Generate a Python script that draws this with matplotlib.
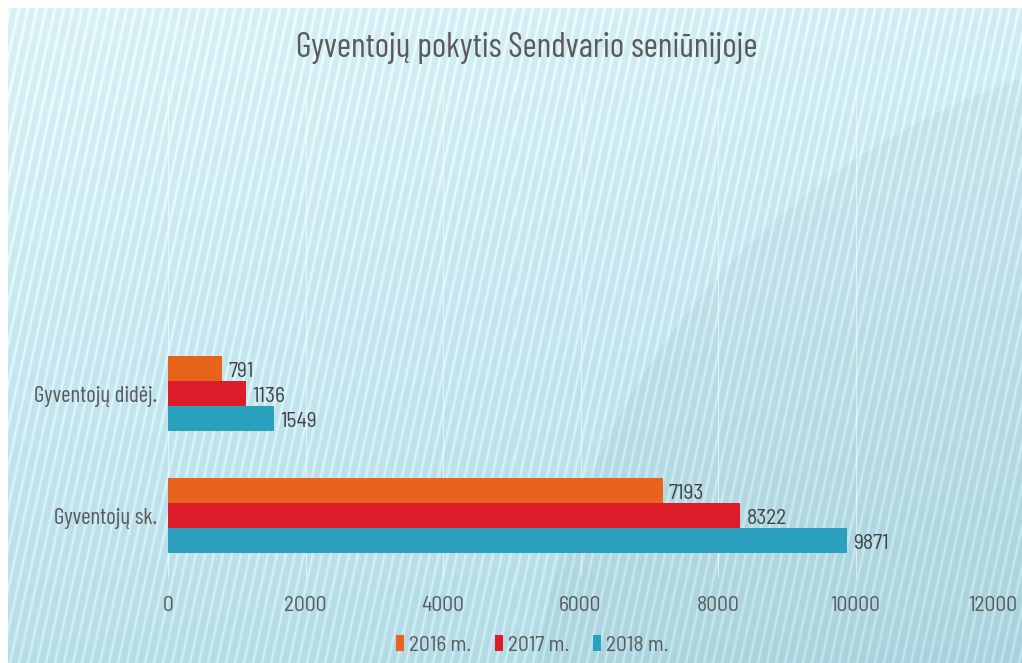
import numpy as np
import matplotlib.pyplot as plt

plt.rcParams['font.family'] = ['Barlow Condensed', 'DejaVu Sans']
num_font = ['Barlow Semi Condensed', 'DejaVu Sans']

categories = ['Gyventojų sk.', 'Gyventojų didėj.']
series_names = ['2016 m.', '2017 m.', '2018 m.']
values_2016 = [7193, 791]
values_2017 = [8322, 1136]
values_2018 = [9871, 1549]
colors = ['#e8631c', '#dd1c2a', '#2ba0bf']
text_col = '#5a5a5a'

W, H = 1022, 663
fig = plt.figure(figsize=(W / 100, H / 100), dpi=100)

# background: pale cyan gradient with thin diagonal stripes
yy, xx = np.mgrid[0:H, 0:W].astype(float)
top = np.array([0.875, 0.962, 0.980])
bot = np.array([0.710, 0.865, 0.905])
t = (yy / H)[..., None] * 0.8 + (xx / W)[..., None] * 0.2
img = top * (1 - t) + bot * t
stripe = 0.5 + 0.5 * np.sin(2 * np.pi * (xx + 0.22 * yy) / 9.0)
img += (stripe ** 4)[..., None] * 0.08 - 0.02
arc = np.hypot(xx - 1250, yy - 760) < 720
img[arc] -= 0.025
img = np.clip(img, 0, 1)
img[:8, :] = 1
img[:, :8] = 1
bg = fig.add_axes([0, 0, 1, 1])
bg.imshow(img, aspect='auto', extent=[0, 1, 0, 1], interpolation='nearest')
bg.set_xlim(0, 1)
bg.set_ylim(0, 1)
bg.axis('off')

ax = fig.add_axes([168 / W, 1 - 577 / H, (993 - 168) / W, (577 - 88) / H])
ax.patch.set_alpha(0)

y = np.arange(len(categories))
h = 0.205
offsets = [h, 0, -h]
for vals, off, col, name in zip([values_2016, values_2017, values_2018], offsets, colors, series_names):
    bars = ax.barh(y + off, vals, height=h, color=col, label=name)
    for b, v in zip(bars, vals):
        ax.text(v + 90, b.get_y() + b.get_height() / 2 - 0.025, str(v), va='center', ha='left',
                fontsize=15.5, color='#404040', family=num_font)

ax.set_xlim(0, 12000)
ax.set_ylim(-0.5, 3.5)
ax.set_xticks(range(0, 12001, 2000))
ax.set_yticks(y)
ax.set_yticklabels(categories)
ax.tick_params(axis='both', length=0, labelcolor=text_col)
ax.tick_params(axis='x', pad=14, labelsize=15.5, labelfontfamily=num_font)
ax.tick_params(axis='y', pad=8, labelsize=16.5)
ax.grid(axis='x', color='#ffffff', alpha=0.6, linewidth=0.8)
ax.set_axisbelow(True)
for s in ax.spines.values():
    s.set_visible(False)

fig.text(527 / W, 1 - 48 / H, 'Gyventojų pokytis Sendvario seniūnijoje', ha='center', va='center',
         fontsize=24.7, color=text_col)

fig.legend(loc='center', bbox_to_anchor=(532 / W, 1 - 645 / H), ncol=3, frameon=False,
           prop={'family': num_font, 'size': 15.5}, handlelength=0.4, handleheight=0.7,
           handletextpad=0.2, columnspacing=1.1, labelcolor=text_col)

fig.savefig('out.png', dpi=100)
